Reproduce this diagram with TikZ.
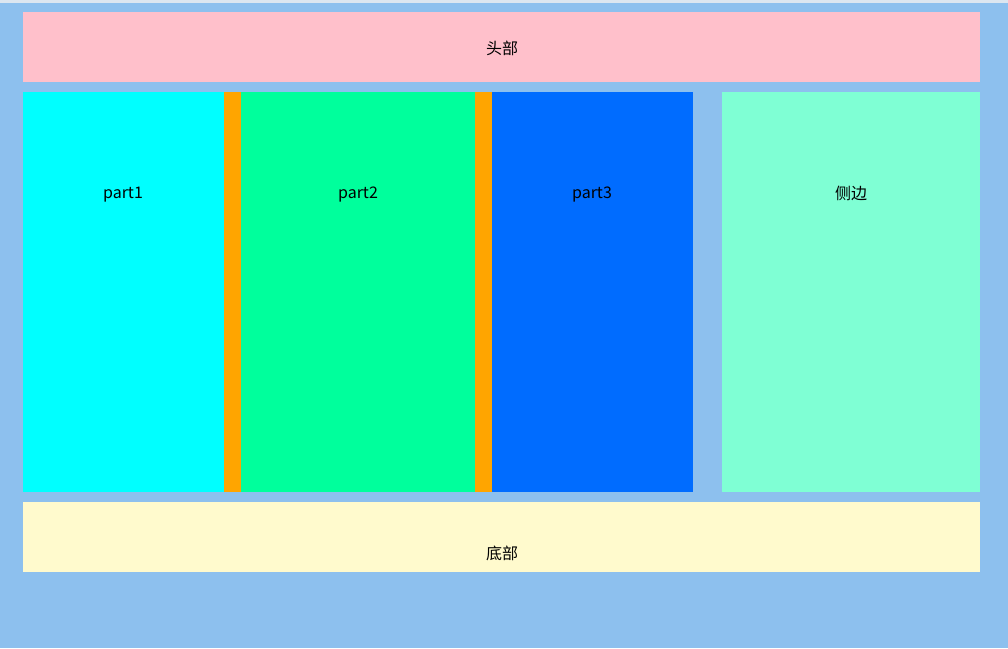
\documentclass[tikz,border=0pt]{standalone}
\usepackage{fontspec}
\setmainfont{Noto Sans CJK SC}
\definecolor{bgc}{HTML}{8DC0EE}
\definecolor{topc}{HTML}{DCE6F0}
\definecolor{pinkc}{HTML}{FFC0CB}
\definecolor{cyanc}{HTML}{00FFFF}
\definecolor{orangec}{HTML}{FFA500}
\definecolor{greenc}{HTML}{00FF9C}
\definecolor{bluec}{HTML}{006CFF}
\definecolor{aquac}{HTML}{7FFFD4}
\definecolor{lemonc}{HTML}{FFFACD}
\begin{document}
\begin{tikzpicture}[x=1pt,y=-1pt,
  lbl/.style={font=\fontsize{16}{19}\selectfont,text=black,inner sep=0pt}]
\fill[bgc] (0,0) rectangle (1008,648);
\useasboundingbox (0,0) rectangle (1008,648);
\fill[topc] (0,0) rectangle (1008,3);
\fill[pinkc] (23,12) rectangle (980,82);
\fill[cyanc] (23,92) rectangle (224,492);
\fill[orangec] (224,92) rectangle (241,492);
\fill[greenc] (241,92) rectangle (475,492);
\fill[orangec] (475,92) rectangle (492,492);
\fill[bluec] (492,92) rectangle (693,492);
\fill[aquac] (722,92) rectangle (980,492);
\fill[lemonc] (23,502) rectangle (980,572);
\node[lbl] (thead) at (502,48) {头部};
\node[lbl] (tp1) at (123,195) {part1};
\node[lbl] (tp2) at (358,195) {part2};
\node[lbl] (tp3) at (592,195) {part3};
\node[lbl] (tside) at (851,193) {侧边};
\node[lbl] (tfoot) at (502,553) {底部};
\end{tikzpicture}
\end{document}
